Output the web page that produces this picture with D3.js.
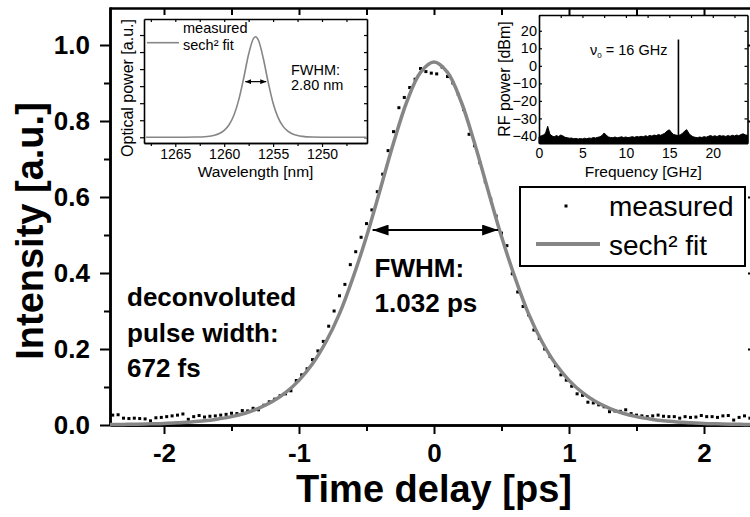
<!DOCTYPE html>
<html>
<head>
<meta charset="utf-8">
<script src="https://cdn.jsdelivr.net/npm/d3@7"></script>
<style>
body { margin: 0; background: #fff; }
svg { display: block; font-family: "Liberation Sans", Arial, sans-serif; }
</style>
</head>
<body>
<svg id="chart" width="750" height="517"></svg>
<script>
// ---- main autocorrelation trace ----
const measuredStart = -2.38, measuredStep = 0.04;
const measured = [
    0.026, 0.027, 0.018, 0.017, 0.018, 0.017, 0.016, 0.011, 0.019, 0.020,
    0.022, 0.024, 0.026, 0.029, 0.015, 0.022, 0.025, 0.021, 0.023, 0.024,
    0.026, 0.028, 0.031, 0.030, 0.038, 0.037, 0.044, 0.040, 0.052, 0.061,
    0.068, 0.077, 0.082, 0.090, 0.117, 0.132, 0.148, 0.172, 0.195, 0.220,
    0.260, 0.300, 0.340, 0.370, 0.422, 0.456, 0.494, 0.530, 0.566, 0.614,
    0.660, 0.722, 0.772, 0.835, 0.862, 0.888, 0.910, 0.938, 0.930, 0.926,
    0.924, 0.942, 0.917, 0.900, 0.870, 0.830, 0.765, 0.735, 0.690, 0.640,
    0.595, 0.550, 0.505, 0.472, 0.398, 0.350, 0.312, 0.290, 0.250, 0.228,
    0.200, 0.180, 0.156, 0.132, 0.118, 0.102, 0.082, 0.078, 0.060, 0.058,
    0.053, 0.048, 0.035, 0.037, 0.036, 0.040, 0.030, 0.026, 0.024, 0.022,
    0.024, 0.026, 0.023, 0.022, 0.022, 0.018, 0.022, 0.020, 0.021, 0.025,
    0.022, 0.022, 0.020, 0.024, 0.025, 0.013, 0.020, 0.024, 0.018, 0.021
];
const fitTime = [
    -2.4, -2.3, -2.2, -2.1, -2.0, -1.9, -1.8, -1.7, -1.6, -1.5, -1.4, -1.3,
    -1.2, -1.1, -1.0, -0.9, -0.8, -0.7, -0.6, -0.5, -0.4, -0.3, -0.2, -0.1,
    0, 0.1, 0.2, 0.3, 0.4, 0.5, 0.6, 0.7, 0.8, 0.9, 1.0, 1.1, 1.2, 1.3,
    1.4, 1.5, 1.6, 1.7, 1.8, 1.9, 2.0, 2.1, 2.2, 2.3, 2.4
];
const fitValues = [
    0.001, 0.0015, 0.002, 0.003, 0.004, 0.006, 0.008, 0.011, 0.016, 0.022, 0.031, 0.044,
    0.061, 0.085, 0.1175, 0.161, 0.219, 0.293, 0.388, 0.496, 0.618, 0.742, 0.852, 0.928,
    0.955, 0.928, 0.852, 0.742, 0.618, 0.496, 0.388, 0.293, 0.219, 0.161, 0.1175, 0.085, 0.061, 0.044,
    0.031, 0.022, 0.016, 0.011, 0.008, 0.006, 0.004, 0.003, 0.002, 0.0015, 0.001
];
const timeTicks = [-2, -1, 0, 1, 2];
const timeMinor = [-1.5, -0.5, 0.5, 1.5];
const intensityTicks = [0, 0.2, 0.4, 0.6, 0.8, 1.0];
const intensityMinor = [0.1, 0.3, 0.5, 0.7, 0.9];

// ---- optical spectrum inset ----
const wavelength = [
    1268, 1266, 1264, 1263, 1262, 1261.5, 1261, 1260.5, 1260, 1259.5, 1259, 1258.5,
    1258, 1257.5, 1257, 1256.8, 1256.5, 1256, 1255.5, 1255, 1254.5, 1254, 1253.5,
    1253, 1252.5, 1252, 1251, 1250, 1248, 1246, 1245.4
];
const opticalPower = [
    0, 0.0002, 0.001, 0.003, 0.007, 0.013, 0.024, 0.044, 0.081, 0.147, 0.261, 0.445,
    0.699, 0.977, 1.161, 1.18, 1.139, 0.924, 0.643, 0.40, 0.234, 0.131, 0.072,
    0.039, 0.021, 0.011, 0.003, 0.001, 0.0002, 0, 0
];
const wavelengthTicks = [1265, 1260, 1255, 1250];
const wavelengthMinor = [1267.5, 1262.5, 1257.5, 1252.5, 1247.5];
const opticalTicks = [0, 0.2, 0.4, 0.6, 0.8, 1.0, 1.2];

// ---- RF spectrum inset ----
const rfStep = 0.25;
const rfNoise = [
    -40.5, -40, -39.5, -38.5, -34.5, -39, -40, -40.5, -39.8, -40.3, -39.5, -40,
    -40.8, -41, -41.3, -41.2, -41.6, -41.4, -41.8, -41.5, -41.7, -41.3, -41.6, -41.2,
    -41.4, -40.9, -41.2, -40.8, -40.5, -39.8, -38.3, -39.6, -40.6, -40.9, -41, -40.6,
    -41.1, -40.8, -40.5, -40.9, -40.6, -41, -40.7, -40.4, -40.8, -40.3, -40.6, -40.2,
    -40.5, -39.9, -40.3, -39.7, -40.1, -39.5, -39.8, -39.2, -39.6, -39.0, -38.4, -37.2,
    -36.5, -38.0, -39.2, -39.5, -39.8, -39.4, -38.6, -37.3, -36.4, -38.5, -39.8, -40.5,
    -40.8, -41, -40.6, -40.9, -40.4, -40.7, -40.2, -39.8, -40.3, -39.9, -40.4, -39.7,
    -40.1, -39.9, -40.3, -39.8, -40.2, -39.6, -40, -39.5, -39.9, -39.2, -38.8, -39.4,
    -39.6
];
const rfPeakFreq = 16.05, rfPeakPower = 15;
const rfFreqTicks = [0, 5, 10, 15, 20];
const rfFreqMinor = [2.5, 7.5, 12.5, 17.5, 22.5];
const rfPowerTicks = [20, 10, 0, -10, -20, -30, -40];

const gray = "#868686";
const svg = d3.select("#chart");

// ================= main plot =================
const x = d3.scaleLinear().domain([-2.4, 2.4]).range([110, 758]);
const y = d3.scaleLinear().domain([0, 1.1]).range([425, 7]);

function styleAxis(g, w) {
    g.select(".domain").attr("stroke-width", w);
    g.selectAll(".tick line").attr("stroke-width", 2);
}

const main = svg.append("g");

// minor ticks
main.append("g").attr("transform", "translate(0,425)")
    .call(d3.axisBottom(x).tickValues(timeMinor).tickSize(6).tickSizeOuter(0).tickFormat(""))
    .call(g => styleAxis(g, 2.5));
main.append("g").attr("transform", "translate(110,0)")
    .call(d3.axisLeft(y).tickValues(intensityMinor).tickSize(6).tickSizeOuter(0).tickFormat(""))
    .call(g => styleAxis(g, 2.5));
main.append("g").attr("transform", "translate(0,8)")
    .call(d3.axisTop(x).tickValues(timeMinor.concat(timeTicks)).tickSize(-7).tickSizeOuter(0).tickFormat(""))
    .call(g => styleAxis(g, 2.5));
main.append("g").attr("transform", "translate(758,0)")
    .call(d3.axisRight(y).tickValues(intensityTicks).tickSize(-10).tickSizeOuter(0).tickFormat(""))
    .call(g => styleAxis(g, 2.5));

// major axes with labels
const xAxis = main.append("g").attr("transform", "translate(0,425)")
    .call(d3.axisBottom(x).tickValues(timeTicks).tickSize(9).tickPadding(10).tickSizeOuter(0).tickFormat(d3.format("d")))
    .call(g => styleAxis(g, 2.5));
const yAxis = main.append("g").attr("transform", "translate(110,0)")
    .call(d3.axisLeft(y).tickValues(intensityTicks).tickSize(10).tickPadding(10).tickSizeOuter(0).tickFormat(d3.format(".1f")))
    .call(g => styleAxis(g, 2.5));
[xAxis, yAxis].forEach(a => a.selectAll("text")
    .attr("font-family", "Liberation Sans, Arial, sans-serif")
    .attr("font-size", 26).attr("font-weight", "bold").attr("fill", "#000"));
xAxis.selectAll("text").text(d => d < 0 ? "-" + Math.abs(d) : d);

main.append("text")
    .attr("x", x(0)).attr("y", 502)
    .attr("text-anchor", "middle")
    .attr("font-size", 38).attr("font-weight", "bold")
    .text("Time delay [ps]");
main.append("text")
    .attr("transform", "translate(43,231) rotate(-90)")
    .attr("text-anchor", "middle")
    .attr("font-size", 38).attr("font-weight", "bold")
    .text("Intensity [a.u.]");

// measured points
const measuredData = measured.map((v, i) => ({ t: measuredStart + i * measuredStep, v: v }));
main.append("g").selectAll("rect")
    .data(measuredData)
    .join("rect")
    .attr("x", d => x(d.t) - 1.5)
    .attr("y", d => y(d.v) - 1.5)
    .attr("width", 3).attr("height", 3)
    .attr("fill", "#000");

// sech^2 fit
const fitData = fitTime.map((t, i) => ({ t: t, v: fitValues[i] }));
main.append("path")
    .datum(fitData)
    .attr("fill", "none")
    .attr("stroke", gray)
    .attr("stroke-width", 3.5)
    .attr("d", d3.line().x(d => x(d.t)).y(d => y(d.v)).curve(d3.curveCatmullRom));

// arrow markers
const defs = svg.append("defs");
defs.append("marker").attr("id", "headBig")
    .attr("markerUnits", "userSpaceOnUse")
    .attr("viewBox", "0 0 16 11").attr("refX", 16).attr("refY", 5.5)
    .attr("markerWidth", 16).attr("markerHeight", 11)
    .attr("orient", "auto-start-reverse")
    .append("path").attr("d", "M0,0L16,5.5L0,11Z").attr("fill", "#000");
defs.append("marker").attr("id", "headSmall")
    .attr("markerUnits", "userSpaceOnUse")
    .attr("viewBox", "0 0 6 5").attr("refX", 6).attr("refY", 2.5)
    .attr("markerWidth", 6).attr("markerHeight", 5)
    .attr("orient", "auto-start-reverse")
    .append("path").attr("d", "M0,0L6,2.5L0,5Z").attr("fill", "#000");

main.append("line")
    .attr("x1", x(-0.455)).attr("x2", x(0.475))
    .attr("y1", y(0.513)).attr("y2", y(0.513))
    .attr("stroke", "#000").attr("stroke-width", 2)
    .attr("marker-start", "url(#headBig)").attr("marker-end", "url(#headBig)");

const fwhmText = main.append("text").attr("font-size", 26).attr("font-weight", "bold");
fwhmText.append("tspan").attr("x", x(-0.44)).attr("y", 277).text("FWHM:");
fwhmText.append("tspan").attr("x", x(-0.44)).attr("y", 312).text("1.032 ps");

const deconv = main.append("text").attr("font-size", 26).attr("font-weight", "bold");
["deconvoluted", "pulse width:", "672 fs"].forEach((s, i) =>
    deconv.append("tspan").attr("x", 127).attr("y", 306 + i * 35.5).text(s));

// legend
const legend = main.append("g");
legend.append("rect").attr("x", 520).attr("y", 187).attr("width", 225).attr("height", 79)
    .attr("fill", "#fff").attr("stroke", "#000").attr("stroke-width", 2);
legend.append("rect").attr("x", 564.5).attr("y", 204.5).attr("width", 3).attr("height", 3).attr("fill", "#000");
legend.append("line").attr("x1", 536).attr("x2", 600).attr("y1", 244).attr("y2", 244)
    .attr("stroke", gray).attr("stroke-width", 4);
legend.append("text").attr("x", 609).attr("y", 216).attr("font-size", 28).text("measured");
legend.append("text").attr("x", 609).attr("y", 255).attr("font-size", 28).text("sech² fit");

// ================= optical spectrum inset =================
const sx = d3.scaleLinear().domain([1268.2, 1245.4]).range([144, 367]);
const sy = d3.scaleLinear().domain([-0.067, 1.388]).range([143, 19]);
const ins1 = svg.append("g");
ins1.append("rect").attr("x", 144).attr("y", 19).attr("width", 223).attr("height", 124).attr("fill", "#fff");

ins1.append("g").attr("transform", "translate(0,143)")
    .call(d3.axisBottom(sx).tickValues(wavelengthMinor).tickSize(3).tickSizeOuter(0).tickFormat(""));
const sxAxis = ins1.append("g").attr("transform", "translate(0,143)")
    .call(d3.axisBottom(sx).tickValues(wavelengthTicks).tickSize(4).tickPadding(2).tickSizeOuter(0).tickFormat(d3.format("d")));
sxAxis.selectAll("text").attr("font-family", "Liberation Sans, Arial, sans-serif").attr("font-size", 14).attr("fill", "#000");
ins1.append("g").attr("transform", "translate(0,19)")
    .call(d3.axisTop(sx).tickValues(wavelengthTicks.concat(wavelengthMinor)).tickSize(-3).tickSizeOuter(0).tickFormat(""));
ins1.append("g").attr("transform", "translate(144,0)")
    .call(d3.axisLeft(sy).tickValues(opticalTicks).tickSize(4).tickSizeOuter(0).tickFormat(""));
ins1.append("g").attr("transform", "translate(367,0)")
    .call(d3.axisRight(sy).tickValues(opticalTicks).tickSize(-3).tickSizeOuter(0).tickFormat(""));
ins1.selectAll(".domain").attr("stroke-width", 1.6);
ins1.selectAll(".tick line").attr("stroke-width", 1.2);

const specData = wavelength.map((w, i) => ({ w: w, p: opticalPower[i] }));
ins1.append("path")
    .datum(specData)
    .attr("fill", "none").attr("stroke", gray).attr("stroke-width", 1.6)
    .attr("d", d3.line().x(d => sx(d.w)).y(d => sy(d.p)).curve(d3.curveMonotoneX));

ins1.append("line").attr("x1", 147).attr("x2", 179).attr("y1", 42.7).attr("y2", 42.7)
    .attr("stroke", gray).attr("stroke-width", 1.6);
ins1.append("text").attr("x", 183).attr("y", 33).attr("font-size", 14.5).text("measured");
ins1.append("text").attr("x", 183).attr("y", 50).attr("font-size", 14.5).text("sech² fit");

ins1.append("line")
    .attr("x1", sx(1257.85)).attr("x2", sx(1255.7))
    .attr("y1", sy(0.653)).attr("y2", sy(0.653))
    .attr("stroke", "#000").attr("stroke-width", 1.2)
    .attr("marker-start", "url(#headSmall)").attr("marker-end", "url(#headSmall)");
const fw2 = ins1.append("text").attr("font-size", 14.5);
fw2.append("tspan").attr("x", 291).attr("y", 75).text("FWHM:");
fw2.append("tspan").attr("x", 291).attr("y", 89.5).text("2.80 nm");

ins1.append("text").attr("x", (144 + 367) / 2).attr("y", 177).attr("text-anchor", "middle")
    .attr("font-size", 15.5).text("Wavelength [nm]");
ins1.append("text").attr("transform", "translate(133,88) rotate(-90)").attr("text-anchor", "middle")
    .attr("font-size", 16).text("Optical power [a.u.]");

// ================= RF spectrum inset =================
const rx = d3.scaleLinear().domain([0, 24]).range([539, 747.5]);
const ry = d3.scaleLinear().domain([-44.2, 29]).range([143.3, 15]);
const ins2 = svg.append("g");
ins2.append("rect").attr("x", 539).attr("y", 15).attr("width", 208.5).attr("height", 128.3).attr("fill", "#fff");

const rfData = rfNoise.map((p, i) => ({ f: i * rfStep, p: p }));
ins2.append("path")
    .datum(rfData)
    .attr("fill", "#000").attr("stroke", "#000").attr("stroke-width", 1)
    .attr("d", d3.area().x(d => rx(d.f)).y0(ry(-44.2)).y1(d => ry(d.p)));
ins2.append("line")
    .attr("x1", rx(rfPeakFreq)).attr("x2", rx(rfPeakFreq))
    .attr("y1", ry(-44.2)).attr("y2", ry(rfPeakPower))
    .attr("stroke", "#000").attr("stroke-width", 1.6);

ins2.append("g").attr("transform", "translate(0,143.3)")
    .call(d3.axisBottom(rx).tickValues(rfFreqTicks).tickSize(0).tickPadding(5).tickSizeOuter(0))
    .call(g => g.selectAll("text").attr("font-family", "Liberation Sans, Arial, sans-serif").attr("font-size", 14).attr("fill", "#000"));
ins2.append("g").attr("transform", "translate(0,15)")
    .call(d3.axisTop(rx).tickValues(rfFreqTicks.concat(rfFreqMinor)).tickSize(-3).tickSizeOuter(0).tickFormat(""));
ins2.append("g").attr("transform", "translate(539,0)")
    .call(d3.axisLeft(ry).tickValues(rfPowerTicks).tickSize(-3).tickPadding(2).tickSizeOuter(0))
    .call(g => g.selectAll("text").attr("font-family", "Liberation Sans, Arial, sans-serif").attr("font-size", 14.5).attr("fill", "#000"));
ins2.append("g").attr("transform", "translate(747.5,0)")
    .call(d3.axisRight(ry).tickValues(rfPowerTicks).tickSize(-3).tickSizeOuter(0).tickFormat(""));
ins2.selectAll(".domain").attr("stroke-width", 1.6);
ins2.selectAll(".tick line").attr("stroke-width", 1.2);

const nu = ins2.append("text").attr("x", 590).attr("y", 55).attr("font-size", 14.5);
nu.append("tspan").text("ν");
nu.append("tspan").attr("font-size", 8).attr("dy", 3).text("0");
nu.append("tspan").attr("dy", -3).text(" = 16 GHz");

ins2.append("text").attr("x", (539 + 747.5) / 2).attr("y", 177).attr("text-anchor", "middle")
    .attr("font-size", 15.5).text("Frequency [GHz]");
ins2.append("text").attr("transform", "translate(510,79) rotate(-90)").attr("text-anchor", "middle")
    .attr("font-size", 16).text("RF power [dBm]");
</script>
</body>
</html>
